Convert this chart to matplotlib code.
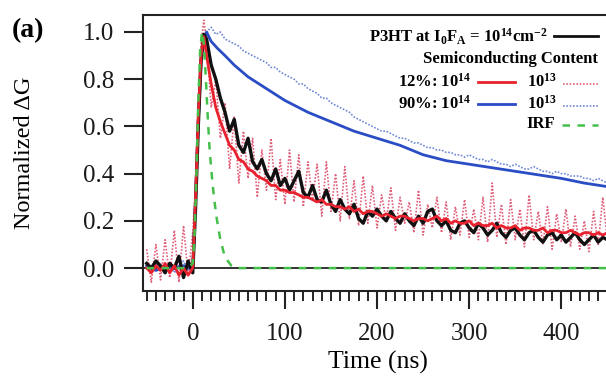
import numpy as np
import matplotlib
matplotlib.use("Agg")
import matplotlib.pyplot as plt
from matplotlib.lines import Line2D
from matplotlib.ticker import MultipleLocator

plt.rcParams["font.family"] = ["Liberation Serif", "DejaVu Serif"]
plt.rcParams["mathtext.fontset"] = "custom"
plt.rcParams["mathtext.rm"] = "Liberation Serif"
plt.rcParams["mathtext.it"] = "Liberation Serif:italic"
plt.rcParams["mathtext.bf"] = "Liberation Serif:bold"

# ── data ───────────────────────────────────────────────────────────
# common time grid for the noisy traces (ns)
t = np.r_[-50:1:5, 3, 6, 9, 12, 15:451:5]

p3ht = [0.02, 0.00, 0.03, 0.01, -0.02, 0.02, 0.00, 0.05, -0.04, 0.03, -0.02,
        0.25, 0.60, 0.88, 0.99,
        0.97, 0.86, 0.80, 0.72, 0.66, 0.58, 0.63, 0.52, 0.49, 0.55,
        0.45, 0.42, 0.46, 0.40, 0.37, 0.42, 0.35, 0.38, 0.33, 0.37,
        0.41, 0.32, 0.30, 0.35, 0.29, 0.28, 0.33, 0.27, 0.24, 0.29,
        0.25, 0.23, 0.27, 0.21, 0.19, 0.24, 0.22, 0.25, 0.22, 0.20,
        0.24, 0.21, 0.19, 0.23, 0.20, 0.18, 0.22, 0.19, 0.24, 0.25,
        0.20, 0.18, 0.20, 0.16, 0.15, 0.19, 0.20, 0.17, 0.15, 0.19,
        0.17, 0.14, 0.16, 0.19, 0.15, 0.13, 0.16, 0.17, 0.14, 0.12,
        0.15, 0.16, 0.13, 0.11, 0.14, 0.15, 0.12, 0.14, 0.11, 0.13,
        0.15, 0.12, 0.10, 0.12, 0.14, 0.11, 0.13, 0.12]

sc12_hi = [0.00, -0.02, 0.01, -0.01, 0.02, -0.02, 0.01, -0.03, 0.00, -0.03, 0.00,
           0.30, 0.65, 0.90, 0.98,
           0.90, 0.78, 0.68, 0.62, 0.57, 0.52, 0.50, 0.46, 0.45, 0.42,
           0.41, 0.39, 0.38, 0.37, 0.35, 0.35, 0.33, 0.33, 0.32, 0.32,
           0.31, 0.30, 0.30, 0.29, 0.28, 0.29, 0.27, 0.27, 0.26, 0.26,
           0.25, 0.26, 0.24, 0.25, 0.23, 0.24, 0.24, 0.23, 0.22, 0.23,
           0.22, 0.21, 0.22, 0.22, 0.21, 0.20, 0.21, 0.21, 0.20, 0.21,
           0.22, 0.20, 0.21, 0.19, 0.20, 0.19, 0.19, 0.20, 0.18, 0.19,
           0.18, 0.18, 0.19, 0.17, 0.18, 0.17, 0.17, 0.18, 0.16, 0.17,
           0.17, 0.16, 0.16, 0.17, 0.15, 0.16, 0.16, 0.15, 0.15, 0.16,
           0.15, 0.14, 0.15, 0.15, 0.14, 0.15, 0.14, 0.15]

sc12_lo = [0.08, -0.06, 0.10, -0.05, 0.12, -0.04, 0.16, -0.06, 0.18, -0.03, 0.15,
           0.35, 0.72, 0.95, 1.05,
           0.96, 0.68, 0.80, 0.55, 0.70, 0.42, 0.64, 0.36, 0.58, 0.38,
           0.55, 0.30, 0.50, 0.33, 0.55, 0.29, 0.46, 0.27, 0.50, 0.28,
           0.48, 0.26, 0.45, 0.29, 0.44, 0.22, 0.45, 0.24, 0.40, 0.20,
           0.43, 0.21, 0.37, 0.18, 0.39, 0.19, 0.35, 0.17, 0.31, 0.20,
           0.34, 0.16, 0.30, 0.19, 0.28, 0.15, 0.33, 0.14, 0.27, 0.17,
           0.30, 0.15, 0.28, 0.12, 0.26, 0.14, 0.29, 0.13, 0.25, 0.12,
           0.30, 0.11, 0.36, 0.13, 0.27, 0.10, 0.29, 0.12, 0.25, 0.09,
           0.31, 0.12, 0.24, 0.10, 0.26, 0.08, 0.23, 0.11, 0.25, 0.09,
           0.22, 0.08, 0.20, 0.07, 0.24, 0.10, 0.30, 0.12]

sc90_lo = [0.01, -0.02, 0.02, 0.00, -0.01, 0.02, -0.02, 0.01, 0.03, -0.01, 0.00,
           0.30, 0.60, 0.86, 0.97,
           1.00, 1.02, 0.99, 1.00, 0.97, 0.96, 0.95, 0.94, 0.92, 0.91,
           0.90, 0.89, 0.88, 0.87, 0.85, 0.85, 0.83, 0.82, 0.81, 0.80,
           0.78, 0.78, 0.76, 0.75, 0.74, 0.72, 0.72, 0.70, 0.69, 0.68,
           0.67, 0.66, 0.64, 0.63, 0.62, 0.61, 0.60, 0.59, 0.58, 0.58,
           0.57, 0.56, 0.55, 0.55, 0.54, 0.53, 0.53, 0.52, 0.51, 0.51,
           0.50, 0.50, 0.49, 0.49, 0.48, 0.48, 0.47, 0.48, 0.47, 0.46,
           0.46, 0.45, 0.46, 0.45, 0.44, 0.44, 0.43, 0.44, 0.43, 0.42,
           0.42, 0.43, 0.42, 0.41, 0.41, 0.40, 0.41, 0.40, 0.40, 0.39,
           0.39, 0.39, 0.38, 0.38, 0.37, 0.38, 0.37, 0.36]

t_blue = [-50, -40, -30, -20, -10, 0, 3, 6, 9, 12, 15, 20, 27, 35, 45, 60, 80,
          100, 125, 150, 175, 200, 225, 250, 275, 300, 325, 350, 375, 400, 425, 450]
sc90_hi = [0.01, -0.01, 0.01, 0.00, 0.01, 0.00, 0.30, 0.62, 0.87, 0.97, 1.00,
           0.96, 0.93, 0.90, 0.86, 0.81, 0.76, 0.71, 0.66, 0.62, 0.58, 0.55,
           0.52, 0.48, 0.455, 0.44, 0.425, 0.41, 0.395, 0.38, 0.36, 0.345]

t_irf = [-50, -10, -5, 0, 2, 4, 6, 8, 10, 12, 14, 16, 18, 20, 23, 26, 30, 34,
         38, 42, 46, 50, 450]
irf = [0, 0, 0, 0.02, 0.15, 0.40, 0.70, 0.92, 1.00, 0.95, 0.82, 0.66, 0.52,
       0.42, 0.30, 0.21, 0.12, 0.06, 0.03, 0.01, 0, 0, 0]

BLACK = "#111111"
RED = "#e8222e"
PINK = "#e0607a"
BLUE = "#2a4cc4"
LBLUE = "#6f88d8"
GREEN = "#44c04a"

W, H = 606, 376
fig = plt.figure(figsize=(W / 100, H / 100), dpi=100)
ax = fig.add_axes([143 / W, 1 - 291 / H, 469 / W, 276 / H])

ax.axhline(0, color=BLACK, lw=1.2, zorder=1)
ax.plot(t, sc12_lo, color=PINK, lw=1.2, ls=(0, (1, 1)), zorder=2)
ax.plot(t, sc90_lo, color=LBLUE, lw=1.2, ls=(0, (1, 1)), zorder=2)
ax.plot(t_blue, sc90_hi, color=BLUE, lw=2, zorder=3)
ax.plot(t, p3ht, color=BLACK, lw=2.4, zorder=4)
ax.plot(t, sc12_hi, color=RED, lw=2, zorder=5)
ax.plot(t_irf, irf, color=GREEN, lw=1.8, ls=(0, (3, 3)), zorder=6)

ax.set_xlim(-54, 455)
ax.set_ylim(-0.097, 1.072)
ax.xaxis.set_major_locator(MultipleLocator(100))
ax.xaxis.set_minor_locator(MultipleLocator(10))
ax.yaxis.set_major_locator(MultipleLocator(0.2))
ax.yaxis.set_major_formatter(plt.FuncFormatter(lambda v, _: f"{v:.1f}"))
ax.tick_params(axis="both", direction="out", labelsize=18, width=1.5,
               colors="#222222", labelcolor="#1a1a1a")
ax.tick_params(axis="y", length=14, pad=7)
ax.tick_params(axis="x", which="major", length=13, pad=10)
ax.tick_params(axis="x", which="minor", length=7, width=1.2)
for side in ax.spines.values():
    side.set_linewidth(1.5)
    side.set_color("#222222")

ax.set_xlabel("Time (ns)", fontsize=18.5, labelpad=4)
ax.set_ylabel("Normalized ΔG", fontsize=17.5)
ax.yaxis.set_label_coords((35 - 143) / 469, 0.5)
fig.text(12 / W, 1 - 31 / H, "(a)", fontsize=20, fontweight="bold",
         va="center", ha="left")


# ── hand-placed legend (pixel positions) ───────────────────────────
def ftxt(x, y, s, **kw):
    fig.text(x / W, 1 - y / H, s, fontsize=12, fontweight="bold",
             va="center", ha="right", **kw)


def fline(x0, x1, y, **kw):
    fig.add_artist(Line2D([x0 / W, x1 / W], [1 - y / H, 1 - y / H], **kw))


ftxt(548, 37, r"P3HT at I$_\mathbf{0}$F$_\mathbf{A}$ = 10$^{\mathbf{14}}$cm$^{\mathbf{-2}}$")
fline(554, 598, 36, color=BLACK, lw=2)
ftxt(598, 59, "Semiconducting Content")
ftxt(471, 82, r"12%: 10$^{\mathbf{14}}$")
fline(478, 515, 82, color=RED, lw=2)
ftxt(557, 82, r"10$^{\mathbf{13}}$")
fline(563, 598, 84, color=PINK, lw=1.2, ls=(0, (1, 1)))
ftxt(471, 104, r"90%: 10$^{\mathbf{14}}$")
fline(478, 515, 104, color=BLUE, lw=2)
ftxt(557, 104, r"10$^{\mathbf{13}}$")
fline(563, 598, 106, color=LBLUE, lw=1.2, ls=(0, (1, 1)))
ftxt(555, 124, "IRF")
fline(562, 598, 125, color=GREEN, lw=1.8, ls=(0, (3, 3)))

fig.savefig("out.png", dpi=100, facecolor="white")
